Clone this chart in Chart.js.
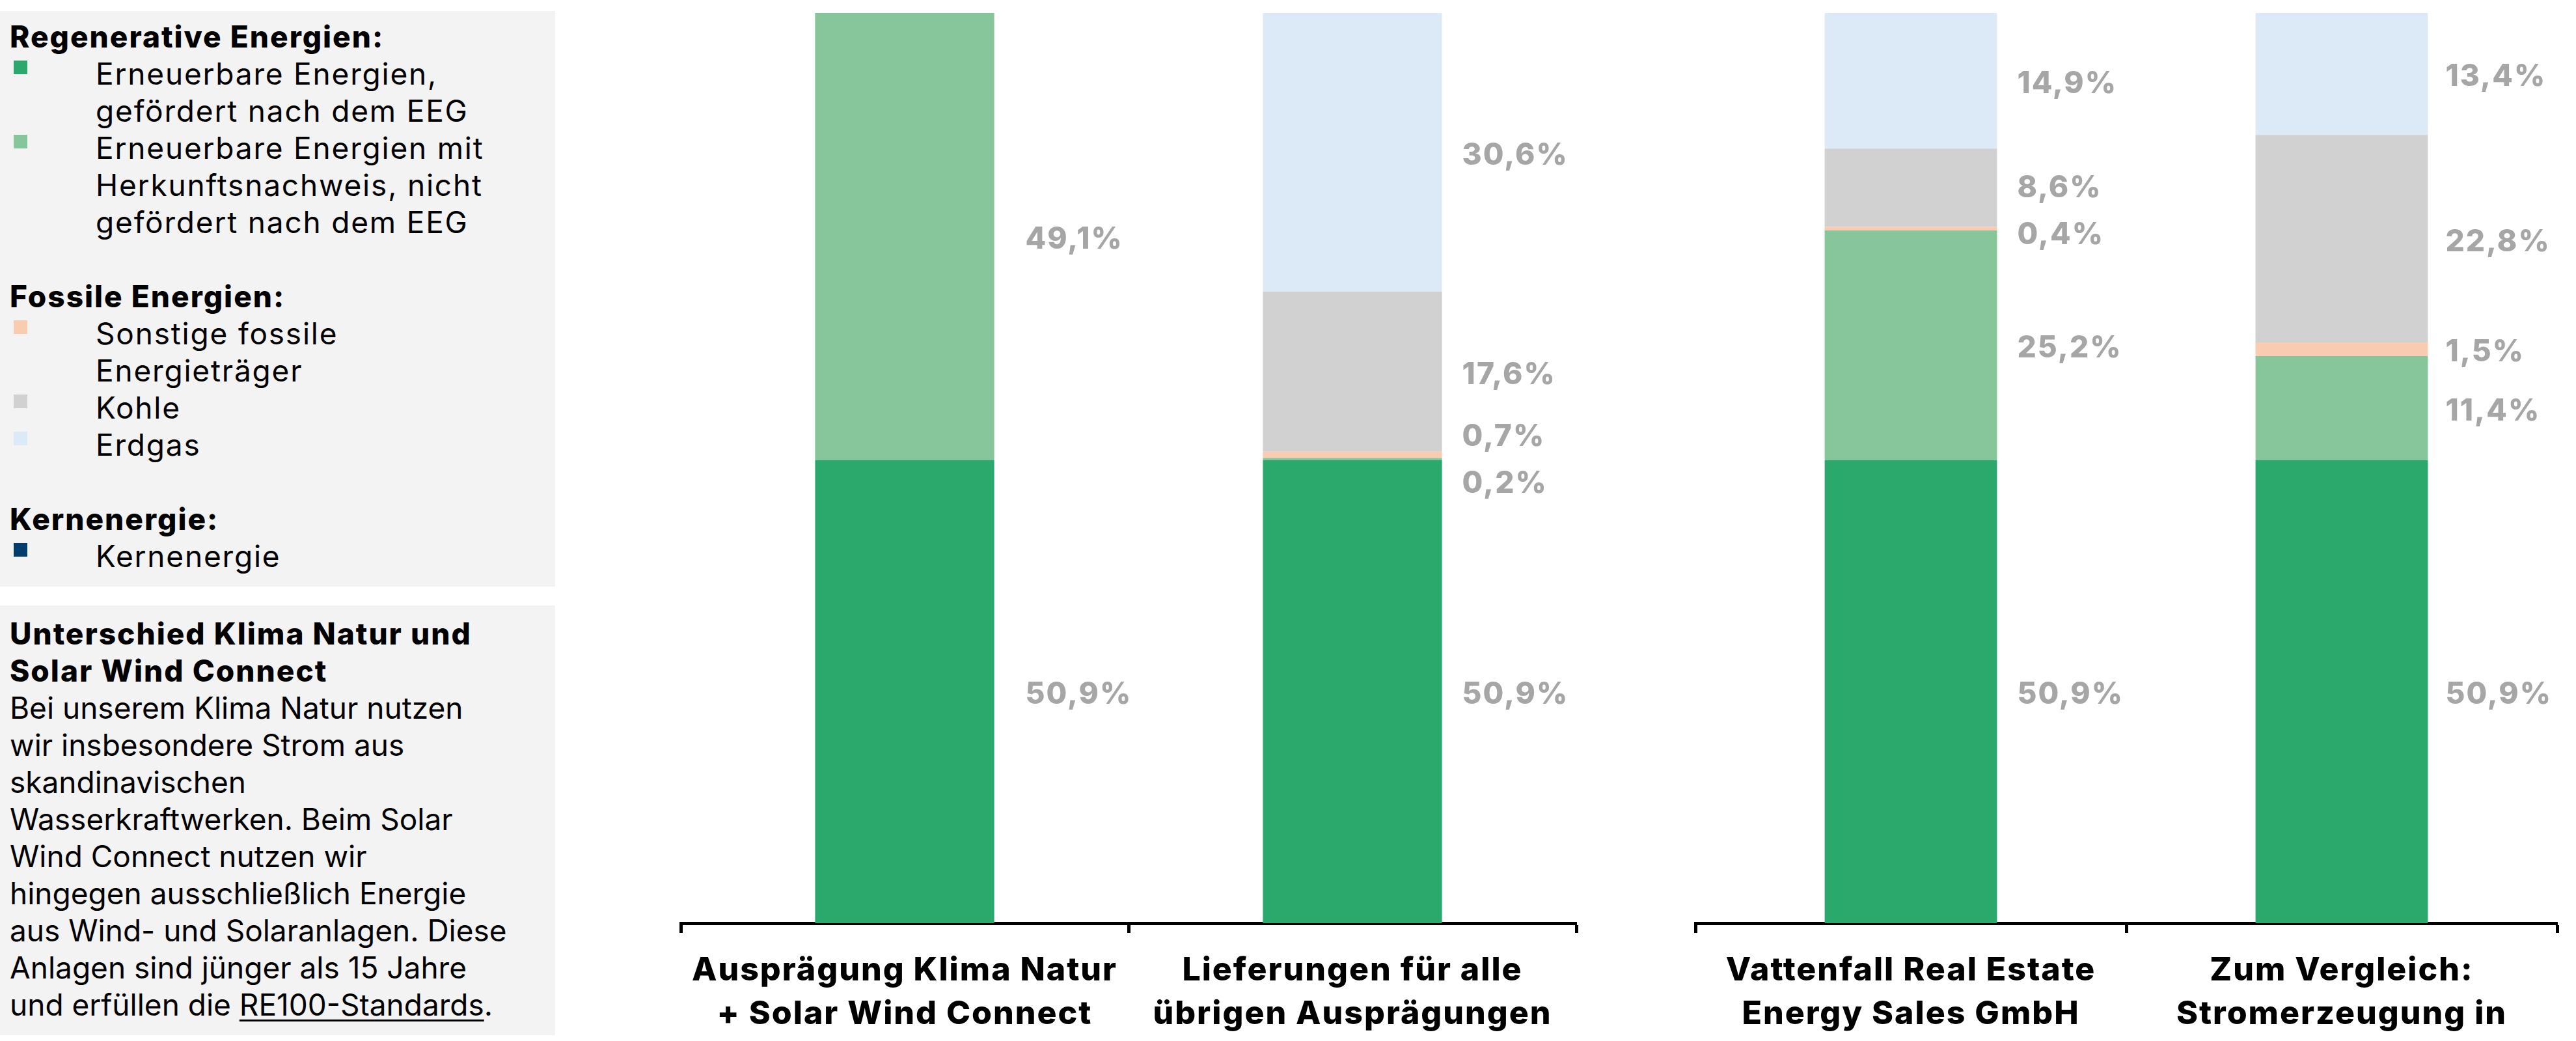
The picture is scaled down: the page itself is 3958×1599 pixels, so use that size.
<!DOCTYPE html>
<html lang="de">
<head>
<meta charset="utf-8">
<title>Energieträgermix</title>
<script src="https://cdn.jsdelivr.net/npm/chart.js@4.4.1/dist/chart.umd.min.js"></script>
<style>
  html, body { margin: 0; padding: 0; background: #fff; }
  body { width: 3958px; height: 1599px; position: relative; overflow: hidden;
         font-family: Inter, 'Noto Sans', sans-serif; color: #000; }
  .panel { position: absolute; left: 0; width: 853px; background: #f3f3f3; box-sizing: border-box;
           font-size: 46px; line-height: 57px; white-space: nowrap; }
  #legendPanel { top: 17px; height: 884px; padding: 11px 0 0 15px; letter-spacing: 1.8px; }
  #notePanel { top: 930px; height: 660px; padding: 15px 0 0 15px; }
  .group-title { font-weight: 800; letter-spacing: 2px; }
  .item { position: relative; padding-left: 132px; }
  .item .swatch { position: absolute; left: 6px; top: 8px; width: 21px; height: 21px; }
  .gap { height: 57px; }
  .chart-box { position: absolute; top: 0; }
  #notePanel u { text-underline-offset: 6px; text-decoration-thickness: 3px; }
</style>
</head>
<body>
<div class="panel" id="legendPanel"></div>
<div class="panel" id="notePanel">
  <div class="group-title">Unterschied Klima Natur und<br>Solar Wind Connect</div>
  <div>Bei unserem Klima Natur nutzen<br>wir insbesondere Strom aus<br>skandinavischen<br>Wasserkraftwerken. Beim Solar<br>Wind Connect nutzen wir<br>hingegen ausschließlich Energie<br>aus Wind- und Solaranlagen. Diese<br>Anlagen sind jünger als 15 Jahre<br>und erfüllen die <u>RE100-Standards</u>.</div>
</div>
<canvas id="chartLeft" class="chart-box" width="1460" height="1599" style="left:1000px"></canvas>
<canvas id="chartRight" class="chart-box" width="1398" height="1599" style="left:2560px"></canvas>

<script>
// categories (two groups of bars)
const categoriesLeft = [['Ausprägung Klima Natur', '+ Solar Wind Connect'], ['Lieferungen für alle', 'übrigen Ausprägungen']];
const categoriesRight = [['Vattenfall Real Estate', 'Energy Sales GmbH'], ['Zum Vergleich:', 'Stromerzeugung in']];

// shares in % (order: Klima Natur, übrige, Real Estate, Vergleich)
const eegGefoerdert = [50.9, 50.9, 50.9, 50.9];
const herkunftsnachweis = [49.1, 0.2, 25.2, 11.4];
const sonstigeFossile = [0, 0.7, 0.4, 1.5];
const kohle = [0, 17.6, 8.6, 22.8];
const erdgas = [0, 30.6, 14.9, 13.4];
const kernenergie = [0, 0, 0, 0];

const seriesNames = [
  ['Erneuerbare Energien,', 'gefördert nach dem EEG'],
  ['Erneuerbare Energien mit', 'Herkunftsnachweis, nicht', 'gefördert nach dem EEG'],
  ['Sonstige fossile', 'Energieträger'],
  ['Kohle'],
  ['Erdgas'],
  ['Kernenergie']
];
const seriesValues = [eegGefoerdert, herkunftsnachweis, sonstigeFossile, kohle, erdgas, kernenergie];
const seriesColors = ['#2ba96c', '#87c59a', '#f9cbb1', '#d1d1d1', '#dce9f6', '#003d6c'];
const legendGroups = [
  { title: 'Regenerative Energien:', series: [0, 1] },
  { title: 'Fossile Energien:', series: [2, 3, 4] },
  { title: 'Kernenergie:', series: [5] }
];

// legend panel
const legendPanel = document.getElementById('legendPanel');
legendGroups.forEach((g, gi) => {
  if (gi > 0) {
    const gap = document.createElement('div');
    gap.className = 'gap';
    legendPanel.appendChild(gap);
  }
  const t = document.createElement('div');
  t.className = 'group-title';
  t.textContent = g.title;
  legendPanel.appendChild(t);
  g.series.forEach(i => {
    const item = document.createElement('div');
    item.className = 'item';
    const sw = document.createElement('span');
    sw.className = 'swatch';
    sw.style.background = seriesColors[i];
    item.appendChild(sw);
    seriesNames[i].forEach(line => {
      const l = document.createElement('div');
      l.textContent = line;
      item.appendChild(l);
    });
    legendPanel.appendChild(item);
  });
});

function fmt(v) {
  return v.toFixed(1).replace('.', ',') + '%';
}

const LABEL_GAP = 72;

// wider letter spacing for the canvas texts
const spacing = {
  id: 'spacing',
  beforeUpdate(chart) { chart.ctx.letterSpacing = '2px'; },
  beforeDraw(chart) { chart.ctx.letterSpacing = '2px'; }
};

const segmentLabels = {
  id: 'segmentLabels',
  afterDatasetsDraw(chart, args, opts) {
    const ctx = chart.ctx;
    ctx.save();
    ctx.font = '800 46px Inter';
    ctx.letterSpacing = '2px';
    ctx.fillStyle = '#a6a6a6';
    ctx.textAlign = 'left';
    ctx.textBaseline = 'middle';
    chart.data.labels.forEach((lbl, c) => {
      const items = [];
      chart.data.datasets.forEach((ds, d) => {
        const v = ds.data[c];
        if (!v) return;
        const bar = chart.getDatasetMeta(d).data[c];
        items.push({ text: fmt(v), x: bar.x + bar.width / 2 + opts.offsets[c], y: (bar.y + bar.base) / 2 + 5 });
      });
      items.sort((a, b) => a.y - b.y);
      // push apart labels of thin segments
      for (let k = 0; k < 20; k++) {
        for (let i = 1; i < items.length; i++) {
          const gap = items[i].y - items[i - 1].y;
          if (gap < LABEL_GAP) {
            const s = (LABEL_GAP - gap) / 2;
            items[i - 1].y -= s;
            items[i].y += s;
          }
        }
      }
      items.forEach(it => ctx.fillText(it.text, it.x, it.y));
    });
    ctx.restore();
  }
};

function makeChart(id, labels, from, padLeft, padRight, offsets) {
  const datasets = seriesNames.map((name, i) => ({
    label: name.join(' '),
    data: seriesValues[i].slice(from, from + labels.length),
    backgroundColor: seriesColors[i],
    borderWidth: 0,
    barPercentage: 0.4,
    categoryPercentage: 1
  }));
  return new Chart(document.getElementById(id), {
    type: 'bar',
    data: { labels: labels, datasets: datasets },
    options: {
      responsive: false,
      animation: false,
      layout: { padding: { top: 20, left: padLeft, right: padRight, bottom: 0 } },
      plugins: {
        legend: { display: false },
        tooltip: { enabled: false },
        segmentLabels: { offsets: offsets }
      },
      scales: {
        x: {
          stacked: true,
          border: { display: true, color: '#000', width: 5 },
          grid: { display: true, drawOnChartArea: false, drawTicks: true, tickLength: 15, tickWidth: 5, tickColor: '#000', offset: true },
          ticks: {
            color: '#000',
            font: { family: 'Inter', weight: '800', size: 50, lineHeight: 1.34 },
            padding: 24,
            maxRotation: 0,
            autoSkip: false
          },
          afterFit(scale) { scale.height = 181; }
        },
        y: { stacked: true, display: false, min: 0, max: 100 }
      }
    },
    plugins: [spacing, segmentLabels]
  });
}

makeChart('chartLeft', categoriesLeft, 0, 46, 38, [48, 31]);
makeChart('chartRight', categoriesRight, 2, 45, 29, [31, 27]);
</script>
</body>
</html>
